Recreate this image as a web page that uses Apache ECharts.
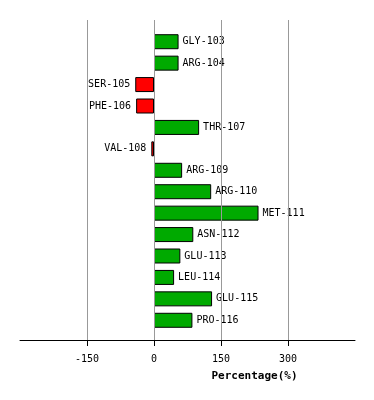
<!DOCTYPE html>
<html><head><meta charset="utf-8">
<script src="https://cdn.jsdelivr.net/npm/echarts@6/dist/echarts.min.js"></script>
<style>html,body{margin:0;padding:0;background:#fff}#c{width:374px;height:400px}</style>
</head><body><div id="c"></div>
<script>
var categories = ['GLY-103','ARG-104','SER-105','PHE-106','THR-107','VAL-108','ARG-109','ARG-110','MET-111','ASN-112','GLU-113','LEU-114','GLU-115','PRO-116'];
var values = [55, 55, -42, -40, 101, -6, 63, 128, 234, 88, 59, 45, 130, 86];
var tickValues = [-150, 0, 150, 300];
var axisMin = -300, axisMax = 450;

var font = 'DejaVu Sans Mono';
var chart = echarts.init(document.getElementById('c'), null, {renderer: 'canvas'});
chart.setOption({
  animation: false,
  backgroundColor: '#fff',
  grid: [
    {left: 20, right: 19, top: 31, height: 300},
    {left: 20, right: 19, top: 20, height: 320}
  ],
  xAxis: [
    {gridIndex: 0, type: 'value', min: axisMin, max: axisMax, interval: 150, show: false},
    {gridIndex: 1, type: 'value', min: axisMin, max: axisMax, interval: 150,
     axisLine: {show: true, lineStyle: {color: '#000', width: 1}},
     axisTick: {show: true, customValues: tickValues, length: 6, lineStyle: {color: '#000'}},
     axisLabel: {customValues: tickValues, margin: 14, color: '#000', fontFamily: font, fontSize: 10},
     splitLine: {show: false},
     name: 'Percentage(%)', nameLocation: 'middle', nameGap: 31,
     nameTextStyle: {fontFamily: font, fontSize: 11, fontWeight: 'bold', color: '#000', padding: [0, 0, 0, 134]}
    }
  ],
  yAxis: [
    {gridIndex: 0, type: 'category', data: categories, inverse: true, show: false},
    {gridIndex: 1, type: 'value', min: 0, max: 1, show: false}
  ],
  series: [
    {type: 'line', xAxisIndex: 1, yAxisIndex: 1, data: [], z: 1, silent: true,
     markLine: {silent: true, symbol: 'none', label: {show: false},
       lineStyle: {color: '#999', type: 'solid', width: 1},
       data: tickValues.map(function(v){ return {xAxis: v}; })}
    },
    {type: 'bar', xAxisIndex: 0, yAxisIndex: 0, barWidth: 15, z: 3,
     data: values.map(function(v){
       return {value: v,
         itemStyle: {color: v >= 0 ? '#00aa00' : '#ff0000', borderColor: '#000', borderWidth: 1},
         label: {show: true, position: v >= 0 ? 'right' : 'left', distance: v >= 0 ? 4 : 5,
           formatter: '{b}', color: '#000', fontFamily: font, fontSize: 10}};
     })
    }
  ]
});
</script></body></html>
